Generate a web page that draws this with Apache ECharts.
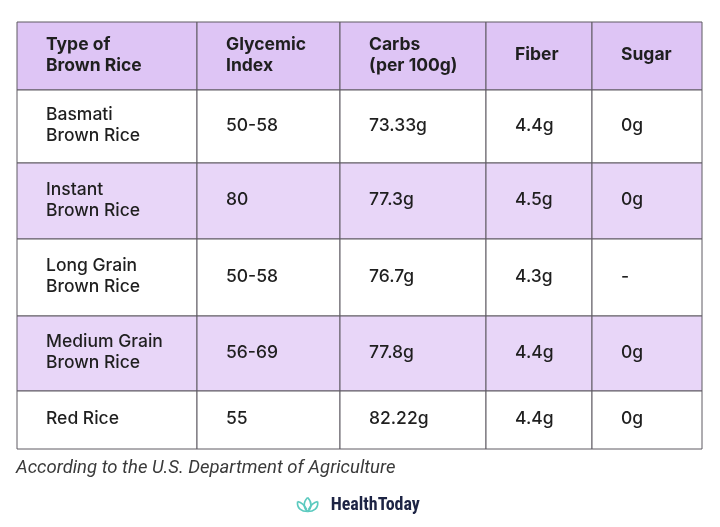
<!DOCTYPE html>
<html>
<head>
<meta charset="utf-8">
<script src="https://cdn.jsdelivr.net/npm/echarts@6/dist/echarts.min.js"></script>
<style>
html,body{margin:0;padding:0;background:#fff;}
#chart{width:720px;height:527px;}
</style>
</head>
<body>
<div id="chart"></div>
<script>
// ---- data ----
var headers = ['Type of\nBrown Rice', 'Glycemic\nIndex', 'Carbs\n(per 100g)', 'Fiber', 'Sugar'];
var riceTypes = ['Basmati\nBrown Rice', 'Instant\nBrown Rice', 'Long Grain\nBrown Rice', 'Medium Grain\nBrown Rice', 'Red Rice'];
var glycemicIndex = ['50-58', '80', '50-58', '56-69', '55'];
var carbs = ['73.33g', '77.3g', '76.7g', '77.8g', '82.22g'];
var fiber = ['4.4g', '4.5g', '4.3g', '4.4g', '4.4g'];
var sugar = ['0g', '0g', '-', '0g', '0g'];
var footnote = 'According to the U.S. Department of Agriculture';
var brand = 'HealthToday';

// ---- layout (axis units) ----
var colEdges = [0, 180, 323, 469, 575, 685];
var rowEdges = [0, 68, 141, 217, 294, 369, 427];

var columns = [riceTypes, glycemicIndex, carbs, fiber, sugar];
var cells = [];
headers.forEach(function (h, c) { cells.push([c, 0, h]); });
for (var r = 0; r < riceTypes.length; r++) {
  for (var c = 0; c < columns.length; c++) {
    cells.push([c, r + 1, columns[c][r]]);
  }
}

function curve(x1, y1, cx1, cy1, cx2, cy2, x2, y2) {
  return {
    type: 'bezierCurve',
    shape: {x1: x1, y1: y1, cpx1: cx1, cpy1: cy1, cpx2: cx2, cpy2: cy2, x2: x2, y2: y2},
    style: {stroke: '#5ccabf', lineWidth: 1.7, fill: null}
  };
}

var chart = echarts.init(document.getElementById('chart'), null, {renderer: 'canvas'});
chart.setOption({
  backgroundColor: '#ffffff',
  animation: false,
  grid: {left: 17, top: 22, width: 685, height: 427},
  xAxis: {type: 'value', min: 0, max: 685, show: false},
  yAxis: {type: 'value', min: 0, max: 427, inverse: true, show: false},
  series: [{
    type: 'custom',
    data: cells,
    encode: {x: 0, y: 1},
    renderItem: function (params, api) {
      var c = api.value(0), r = api.value(1);
      var text = cells[params.dataIndex][2];
      var p0 = api.coord([colEdges[c], rowEdges[r]]);
      var p1 = api.coord([colEdges[c + 1], rowEdges[r + 1]]);
      var fill = r === 0 ? '#dec5f5' : (r % 2 === 0 ? '#e8d6f8' : '#ffffff');
      return {
        type: 'group',
        children: [{
          type: 'rect',
          shape: {x: p0[0], y: p0[1], width: p1[0] - p0[0], height: p1[1] - p0[1]},
          style: {fill: fill, stroke: '#5f5a63', lineWidth: 1}
        }, {
          type: 'text',
          x: p0[0] + 29,
          y: (p0[1] + p1[1]) / 2 - 1,
          style: {
            text: text,
            fill: '#1f1f1f',
            font: (r === 0 ? 'bold ' : '500 ') + '17.5px Inter, "Noto Sans", sans-serif',
            lineHeight: 21,
            align: 'left',
            verticalAlign: 'middle'
          }
        }]
      };
    }
  }],
  graphic: [{
    type: 'text',
    left: 16,
    top: 459,
    style: {
      text: footnote,
      fill: '#3a3a3a',
      font: 'italic 18.5px Roboto, "Liberation Sans", sans-serif'
    }
  }, {
    type: 'group',
    left: 295,
    top: 495,
    children: [
      curve(11, 1, 6, 6, 7, 12, 11, 15),
      curve(11, 1, 16, 6, 15, 12, 11, 15),
      curve(1, 5, 0, 12, 5, 15, 11, 15),
      curve(1, 5, 5, 6, 8, 9, 10, 13),
      curve(21, 5, 22, 12, 17, 15, 11, 15),
      curve(21, 5, 17, 6, 14, 9, 12, 13),
      {
        type: 'text',
        x: 34,
        y: 0,
        style: {
          text: brand,
          fill: '#1d2444',
          font: 'bold 18px "Liberation Sans Narrow", "Roboto Condensed", Roboto, sans-serif'
        }
      }
    ]
  }]
});
</script>
</body>
</html>
